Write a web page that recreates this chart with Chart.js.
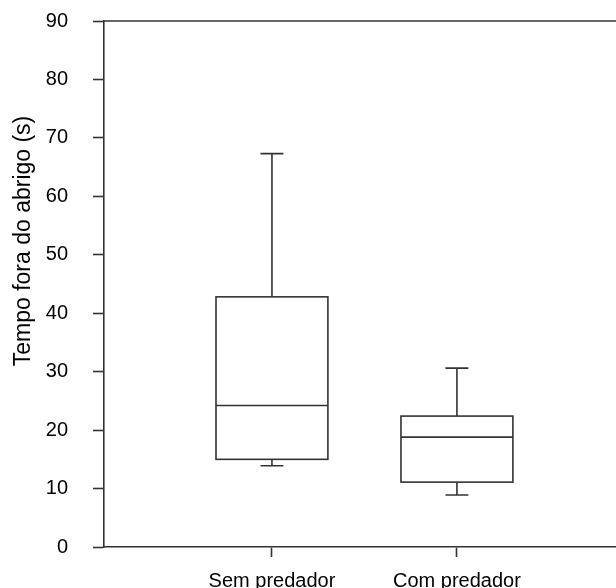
<!DOCTYPE html>
<html>
<head>
<meta charset="utf-8">
<script src="https://cdn.jsdelivr.net/npm/chart.js@4.4.1/dist/chart.umd.min.js"></script>
<style>
  html, body { margin: 0; padding: 0; background: #fff; }
  #wrap { width: 616px; height: 588px; position: relative; }
</style>
</head>
<body>
<div id="wrap"><canvas id="myChart"></canvas></div>
<script>
// box plot values
const categories = ['Sem predador', 'Com predador'];
const whiskerLow = [13.9, 8.9];
const q1 = [15.0, 11.1];
const median = [24.2, 18.8];
const q3 = [42.8, 22.4];
const whiskerHigh = [67.3, 30.6];
const yTicks = [0, 10, 20, 30, 40, 50, 60, 70, 80, 90];
const yTitle = 'Tempo fora do abrigo (s)';

const FONT = 'Arial, "Liberation Sans", sans-serif';
const INK = '#333';

// box + whiskers drawn through the chart scales
const boxPlot = {
  id: 'boxPlot',
  afterDatasetsDraw(chart) {
    const { ctx, chartArea, scales: { x, y } } = chart;
    const boxW = 0.605, capW = 0.124;
    ctx.save();
    ctx.strokeStyle = INK;
    ctx.lineWidth = 1.6;
    categories.forEach((c, i) => {
      const cx = x.getPixelForValue(i + 1);
      const l = x.getPixelForValue(i + 1 - boxW / 2);
      const r = x.getPixelForValue(i + 1 + boxW / 2);
      const cl = x.getPixelForValue(i + 1 - capW / 2);
      const cr = x.getPixelForValue(i + 1 + capW / 2);
      const yq1 = y.getPixelForValue(q1[i]);
      const yq3 = y.getPixelForValue(q3[i]);
      const ym = y.getPixelForValue(median[i]);
      const ylo = y.getPixelForValue(whiskerLow[i]);
      const yhi = y.getPixelForValue(whiskerHigh[i]);
      ctx.strokeRect(l, yq3, r - l, yq1 - yq3);
      ctx.beginPath();
      ctx.moveTo(l, ym); ctx.lineTo(r, ym);
      ctx.moveTo(cx, yq3); ctx.lineTo(cx, yhi);
      ctx.moveTo(cl, yhi); ctx.lineTo(cr, yhi);
      ctx.moveTo(cx, yq1); ctx.lineTo(cx, ylo);
      ctx.moveTo(cl, ylo); ctx.lineTo(cr, ylo);
      ctx.stroke();
    });
    // top frame line
    ctx.beginPath();
    ctx.moveTo(chartArea.left, chartArea.top);
    ctx.lineTo(chartArea.right, chartArea.top);
    ctx.stroke();
    // y title, placed as in the figure
    ctx.fillStyle = '#000';
    ctx.font = '23px ' + FONT;
    ctx.textAlign = 'center';
    ctx.textBaseline = 'middle';
    ctx.translate(24, 241);
    ctx.rotate(-Math.PI / 2);
    ctx.fillText(yTitle, 0, 0);
    ctx.restore();
  }
};

const ctx = document.getElementById('myChart').getContext('2d');
new Chart(ctx, {
  type: 'scatter',
  data: {
    datasets: [{
      data: median.map((m, i) => ({ x: i + 1, y: m })),
      pointRadius: 0,
      showLine: false
    }]
  },
  options: {
    responsive: true,
    maintainAspectRatio: false,
    animation: false,
    layout: { padding: { top: 21, right: 0, left: 0, bottom: 0 } },
    plugins: { legend: { display: false }, tooltip: { enabled: false } },
    scales: {
      x: {
        type: 'linear',
        min: 0.092,
        max: 2.86,
        afterBuildTicks: s => { s.ticks = categories.map((c, i) => ({ value: i + 1 })); },
        afterFit: s => { s.height = 41; s.paddingLeft = 0; s.paddingRight = 0; },
        border: { color: INK, width: 1.6 },
        grid: { drawOnChartArea: false, tickLength: 10, color: INK, tickWidth: 1.6 },
        ticks: {
          color: '#000',
          padding: 12,
          maxRotation: 0,
          font: { family: FONT, size: 20 },
          callback: v => categories[Math.round(v) - 1]
        }
      },
      y: {
        min: 0,
        max: 90,
        afterBuildTicks: s => { s.ticks = yTicks.map(v => ({ value: v })); },
        afterFit: s => { s.width = 104; s.paddingTop = 0; s.paddingBottom = 0; },
        border: { color: INK, width: 1.6 },
        grid: { drawOnChartArea: false, tickLength: 11, color: INK, tickWidth: 1.6 },
        ticks: {
          color: '#000',
          padding: 25,
          font: { family: FONT, size: 20 }
        }
      }
    }
  },
  plugins: [boxPlot]
});
</script>
</body>
</html>
